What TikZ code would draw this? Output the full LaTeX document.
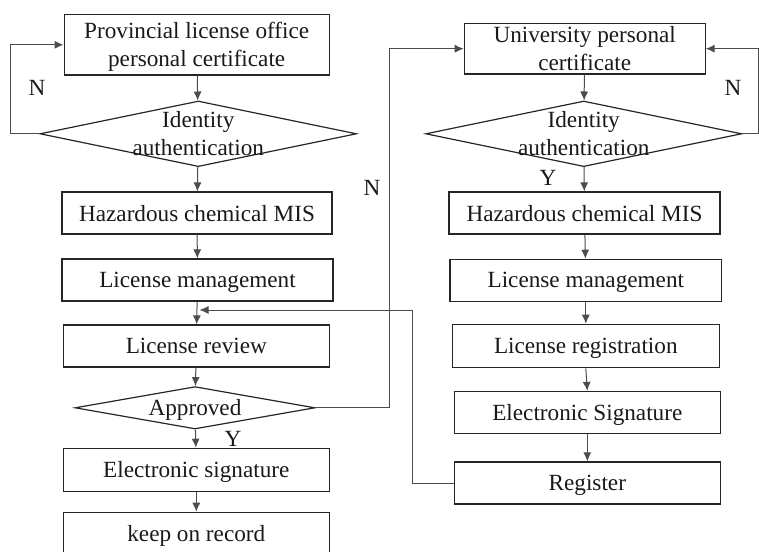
\documentclass[tikz,border=0pt]{standalone}
\usepackage{fontspec}
\setmainfont{Liberation Serif}
\usetikzlibrary{shapes.geometric,arrows.meta}

\begin{document}
\begin{tikzpicture}[x=0.5pt, y=-0.5pt,
    >={Latex[length=4.5pt,width=4pt]},
    every node/.style={font=\fontsize{11.6}{14}\selectfont, text=black!90, text depth=0pt},
    process/.style ={rectangle, draw=black!85, line width=0.6pt, inner sep=0pt,
                     minimum height=21pt, align=center},
    decision/.style={diamond, draw=black!85, line width=0.6pt, inner sep=0pt},
    flow/.style    ={draw=black!70, line width=0.5pt}]
   \useasboundingbox (0,0) rectangle (759,551);
   % provincial license office side
   \node[process, minimum width=132.6pt, minimum height=30.2pt] (p1) at (196.7,44.8) {Provincial license office\\personal certificate};
   \node[decision, minimum width=158.3pt, minimum height=32.8pt,
         label={[align=center]center:Identity\\authentication}] (p2) at (198.3,133.8) {};
   \node[process, minimum width=135pt] (p3) at (197,213) {Hazardous chemical MIS};
   \node[process, minimum width=135.5pt] (p4) at (197.5,280) {License management};
   \node[process, minimum width=133pt] (p5) at (196.3,346) {License review};
   \node[decision, minimum width=120pt, minimum height=21.2pt,
         label=center:Approved] (p6) at (195,407.8) {};
   \node[process, minimum width=133pt, minimum height=21.4pt] (p7) at (196.3,469.7) {Electronic signature};
   \node[process, minimum width=133pt] (p8) at (196.3,533.3) {keep on record};
   % university side
   \node[process, minimum width=120.4pt, minimum height=25.4pt] (q1) at (584.7,48.7) {University personal\\certificate};
   \node[decision, minimum width=158pt, minimum height=32.8pt,
         label={[align=center]center:Identity\\authentication}] (q2) at (583.7,133.8) {};
   \node[process, minimum width=135.5pt] (q3) at (584.5,213) {Hazardous chemical MIS};
   \node[process, minimum width=135.8pt] (q4) at (585.8,280.3) {License management};
   \node[process, minimum width=133.5pt, minimum height=21.7pt] (q5) at (585.8,346) {License registration};
   \node[process, minimum width=133pt] (q6) at (587.3,412.5) {Electronic Signature};
   \node[process, minimum width=133pt] (q7) at (587.3,483) {Register};
   \coordinate (merge) at (199.5,310);
   % labels
   \node (n1) at (37,88) {N};
   \node (n2) at (372,188) {N};
   \node (n3) at (733,88) {N};
   \node (y1) at (548,178) {Y};
   \node (y2) at (233,439) {Y};
   % left flow
   \draw[flow, ->] (p1) -- (p2);
   \draw[flow, ->] (p2) -- (p3);
   \draw[flow, ->] (p3) -- (p4);
   \draw[flow, ->] (p4) -- (p5);
   \draw[flow, ->] (p5) -- (p6);
   \draw[flow, ->] (p6) -- (p7);
   \draw[flow, ->] (p7) -- (p8);
   \draw[flow, ->] (p2.west) -- ++(-29,0) |- (p1.west);
   \draw[flow, ->] (p6.east) -- ++(74.3,0) |- (q1.west);
   % right flow
   \draw[flow, ->] (q1) -- (q2);
   \draw[flow, ->] (q2) -- (q3);
   \draw[flow, ->] (q3) -- (q4);
   \draw[flow, ->] (q4.south) -- (q5.north);
   \draw[flow, ->] (q5.south) -- (q6.north);
   \draw[flow, ->] (q6) -- (q7);
   \draw[flow, ->] (q2.east) -- ++(16.5,0) |- (q1.east);
   \draw[flow, ->] (q7.west) -- ++(-41,0) |- (merge);
\end{tikzpicture}
\end{document}
